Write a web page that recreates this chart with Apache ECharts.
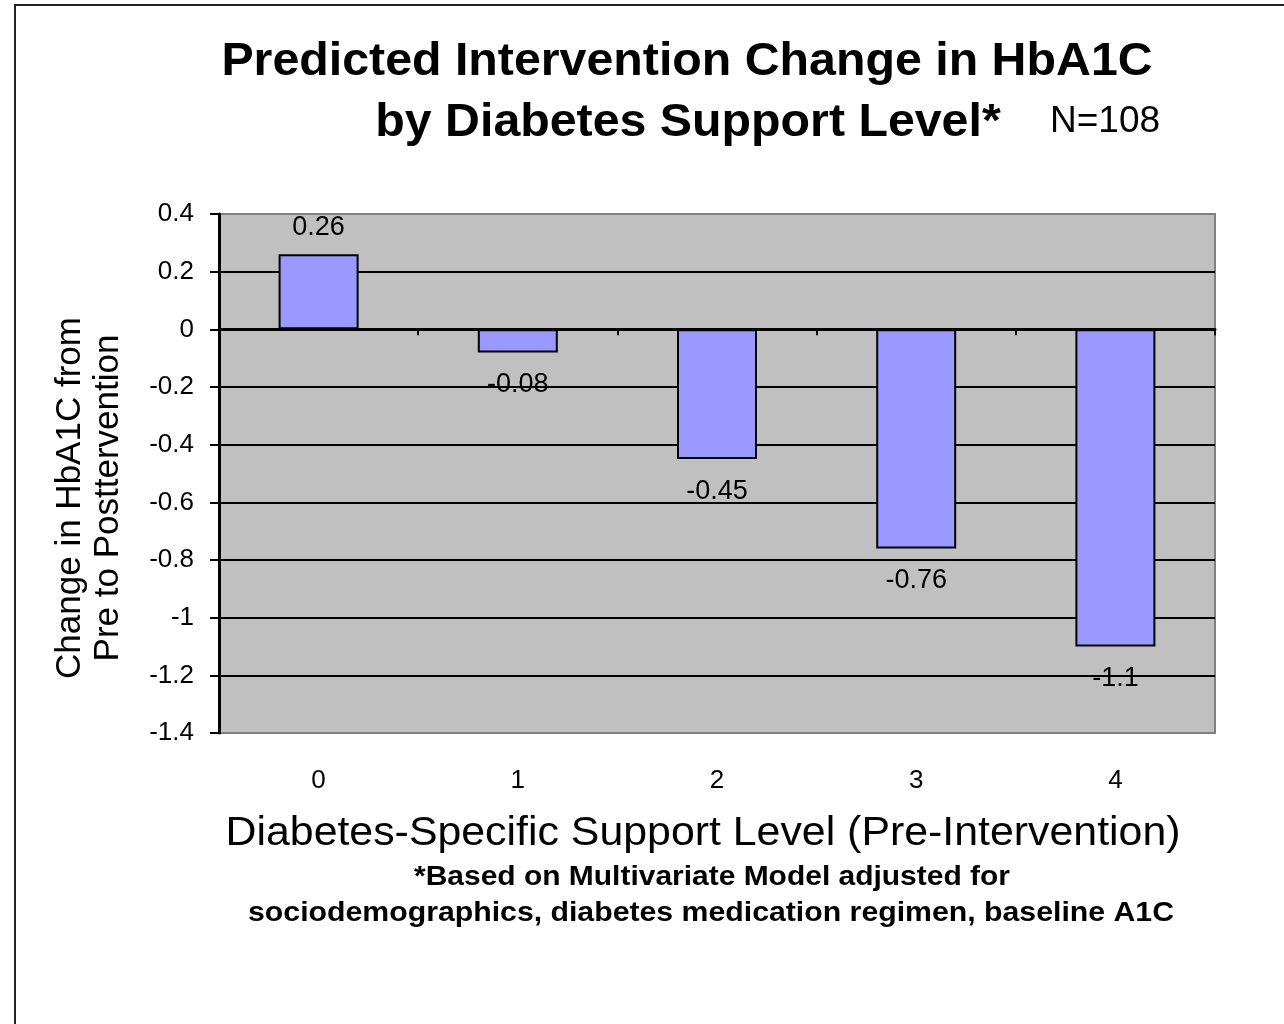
<!DOCTYPE html>
<html>
<head>
<meta charset="utf-8">
<script src="https://cdn.jsdelivr.net/npm/echarts@6/dist/echarts.min.js"></script>
<style>
  html, body { margin: 0; padding: 0; background: #fff; }
  #chart { width: 1284px; height: 1024px; }
</style>
</head>
<body>
<div id="chart"></div>
<script>
// Support levels and predicted change in HbA1C
const supportLevels = ['0', '1', '2', '3', '4'];
const hba1cChange = [0.26, -0.08, -0.45, -0.76, -1.1];
const yTicks = { min: -1.4, max: 0.4, step: 0.2 };

const FONT = '"Liberation Sans", Arial, sans-serif';

const chart = echarts.init(document.getElementById('chart'), null, { renderer: 'canvas' });

// value labels sit above positive bars and below negative ones
const barData = hba1cChange.map(v => ({
  value: v,
  label: v >= 0 ? { position: 'top', distance: 13 } : { position: 'bottom', distance: 19 }
}));

// centred text block helper for the graphic layer
function textBlock(text, x, y, font, scaleX) {
  return {
    type: 'text',
    x: x, y: y,
    scaleX: scaleX || 1,
    style: {
      text: text, font: font, fill: '#000',
      align: 'center', verticalAlign: 'middle'
    }
  };
}

chart.setOption({
  backgroundColor: '#ffffff',
  animation: false,
  textStyle: { fontFamily: FONT, color: '#000' },
  grid: {
    left: 219, right: 69, top: 214, bottom: 291,
    show: true,
    backgroundColor: '#C0C0C0',
    borderColor: '#808080',
    borderWidth: 2
  },
  xAxis: [
    {
      // zero line with category boundary ticks
      type: 'category',
      data: supportLevels,
      position: 'bottom',
      axisLine: { onZero: true, lineStyle: { color: '#000', width: 3 } },
      axisTick: { show: true, length: 6, lineStyle: { color: '#000', width: 2 } },
      axisLabel: { show: false },
      splitLine: { show: false }
    },
    {
      // category labels along the bottom of the plot
      type: 'category',
      data: supportLevels,
      position: 'bottom',
      axisLine: { show: false, onZero: false },
      axisTick: { show: false },
      axisLabel: { show: true, fontSize: 26, color: '#000', margin: 35, fontFamily: FONT },
      splitLine: { show: false }
    }
  ],
  yAxis: {
    type: 'value',
    min: yTicks.min,
    max: yTicks.max,
    interval: yTicks.step,
    axisLine: { show: true, lineStyle: { color: '#000', width: 3 } },
    axisTick: { show: true, length: 9, lineStyle: { color: '#000', width: 2 } },
    axisLabel: {
      fontSize: 26, color: '#000', margin: 25, fontFamily: FONT,
      formatter: v => String(Math.round(v * 10) / 10)
    },
    splitLine: {
      show: true,
      showMinLine: false,
      showMaxLine: false,
      lineStyle: { color: '#000', width: 2 }
    }
  },
  series: [{
    type: 'bar',
    xAxisIndex: 0,
    data: barData,
    barWidth: 80,
    itemStyle: { color: '#9999FF', borderColor: '#000', borderWidth: 2 },
    label: {
      show: true,
      fontSize: 27,
      color: '#000',
      fontFamily: FONT
    },
    z: 3
  }],
  graphic: [
    // outer frame (top and left edges)
    {
      type: 'rect',
      shape: { x: 15, y: 5, width: 1400, height: 1100 },
      style: { fill: 'none', stroke: '#222', lineWidth: 2 },
      silent: true
    },
    textBlock('Predicted Intervention Change in HbA1C', 687, 62, 'bold 46px ' + FONT, 1.05),
    textBlock('by Diabetes Support Level*', 688, 123, 'bold 46px ' + FONT, 1.05),
    textBlock('N=108', 1105, 122, '37px ' + FONT, 1),
    {
      type: 'text',
      x: 89, y: 498,
      rotation: Math.PI / 2,
      style: {
        text: 'Change in HbA1C from\nPre to Posttervention',
        font: '35px ' + FONT,
        lineHeight: 38,
        fill: '#000', align: 'center', verticalAlign: 'middle'
      }
    },
    textBlock('Diabetes-Specific Support Level (Pre-Intervention)', 703, 834, '41px ' + FONT, 1.045),
    textBlock('*Based on Multivariate Model adjusted for', 712, 877, 'bold 28px ' + FONT, 1.07),
    textBlock('sociodemographics, diabetes medication regimen, baseline A1C', 711, 913, 'bold 28px ' + FONT, 1.08)
  ]
});
</script>
</body>
</html>
